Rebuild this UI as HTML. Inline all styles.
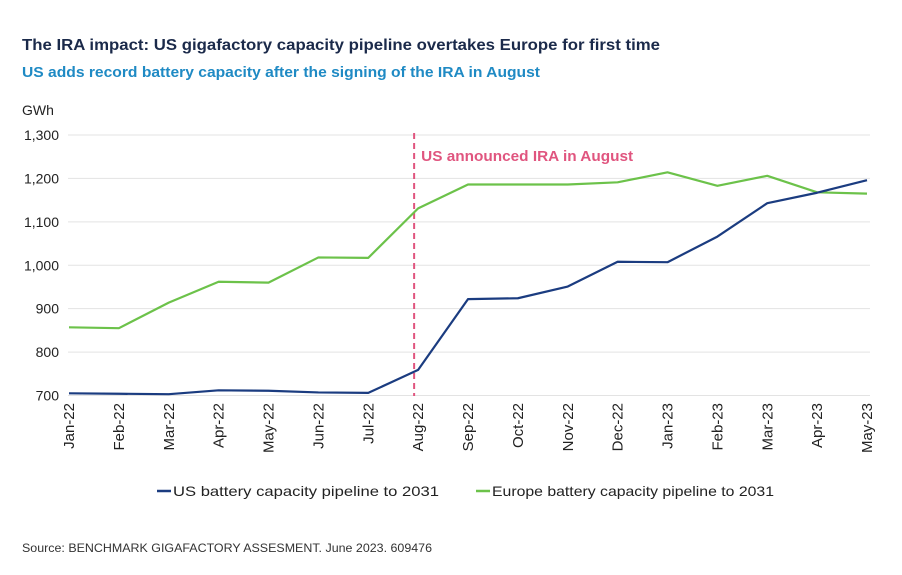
<!DOCTYPE html>
<html><head><meta charset="utf-8"><style>
body{margin:0;background:#fff;}
svg{display:block;font-family:"Liberation Sans",sans-serif;}
</style></head><body>
<svg id="chart" width="902" height="575">
<text x="22" y="50" font-size="16" font-weight="bold" fill="#1b2a4a" textLength="638" lengthAdjust="spacingAndGlyphs">The IRA impact: US gigafactory capacity pipeline overtakes Europe for first time</text>
<text x="22" y="77" font-size="15" font-weight="bold" fill="#1f8ac4" textLength="518" lengthAdjust="spacingAndGlyphs">US adds record battery capacity after the signing of the IRA in August</text>
<text x="22" y="115" font-size="14" fill="#222">GWh</text>
<g id="grid"></g><g id="ylabels"></g><g id="xlabels"></g>
<line id="ira" y1="133" y2="396" stroke="#e0557f" stroke-width="2" stroke-dasharray="6,4"/>
<text id="iratext" y="161" font-size="15" font-weight="bold" fill="#e0557f" textLength="212" lengthAdjust="spacingAndGlyphs">US announced IRA in August</text>
<g id="series"></g>
<g>
<line x1="157" y1="491" x2="171" y2="491" stroke="#1b3c80" stroke-width="2.5"/>
<text x="173" y="496" font-size="14" fill="#222" textLength="266" lengthAdjust="spacingAndGlyphs">US battery capacity pipeline to 2031</text>
<line x1="476" y1="491" x2="490" y2="491" stroke="#6cc24a" stroke-width="2.5"/>
<text x="492" y="496" font-size="14" fill="#222" textLength="282" lengthAdjust="spacingAndGlyphs">Europe battery capacity pipeline to 2031</text>
</g>
<text x="22" y="552" font-size="12" fill="#333" textLength="410" lengthAdjust="spacingAndGlyphs">Source: BENCHMARK GIGAFACTORY ASSESMENT. June 2023. 609476</text>
</svg>
<script>
const categories=["Jan-22","Feb-22","Mar-22","Apr-22","May-22","Jun-22","Jul-22","Aug-22","Sep-22","Oct-22","Nov-22","Dec-22","Jan-23","Feb-23","Mar-23","Apr-23","May-23"];
const usValues=[705,704,703,712,711,707,706,759,922,924,951,1008,1007,1066,1143,1167,1196];
const europeValues=[857,855,914,962,960,1018,1017,1131,1186,1186,1186,1191,1214,1183,1206,1168,1165];
const yTicks=[700,800,900,1000,1100,1200,1300];
const yTickLabels=["700","800","900","1,000","1,100","1,200","1,300"];
const iraIndex=7;
const NS="http://www.w3.org/2000/svg";
const x0=69,x1=867,yMin=700,yMax=1300,py0=395.5,py1=135;
function xs(i){return x0+(x1-x0)*i/(categories.length-1);}
function ys(v){return py0-(v-yMin)/(yMax-yMin)*(py0-py1);}
function mk(t,a,p){const e=document.createElementNS(NS,t);for(const k in a)e.setAttribute(k,a[k]);p.appendChild(e);return e;}
const grid=document.getElementById('grid'),yl=document.getElementById('ylabels'),xl=document.getElementById('xlabels'),sr=document.getElementById('series');
yTicks.forEach((v,i)=>{
 const l=mk('line',{x1:68,x2:870,y1:ys(v),y2:ys(v),stroke:'#e3e3e3','stroke-width':1},grid);
 
 
 const t=mk('text',{x:59,y:ys(v)+5,'text-anchor':'end','font-size':14,fill:'#222'},yl);
 
 
 t.textContent=yTickLabels[i];
});
categories.forEach((c,i)=>{
 const x=xs(i)+5,y=403;
 const t=mk('text',{x:x,y:y,'text-anchor':'end','font-size':15,fill:'#222',transform:`rotate(-90 ${x} ${y})`},xl);
 
 
 t.textContent=c;
});
const ix=xs(iraIndex)-4;
document.getElementById('ira').setAttribute('x1',ix);
document.getElementById('ira').setAttribute('x2',ix);
document.getElementById('iratext').setAttribute('x',ix+7);
function line(vals,col,name){
 const p=mk('polyline',{points:vals.map((v,i)=>xs(i)+','+ys(v)).join(' '),fill:'none',stroke:col,'stroke-width':2.2,'stroke-linejoin':'round'},sr);
 
 
}
line(europeValues,'#6cc24a','europe-line');
line(usValues,'#1b3c80','us-line');
</script>
</body></html>
